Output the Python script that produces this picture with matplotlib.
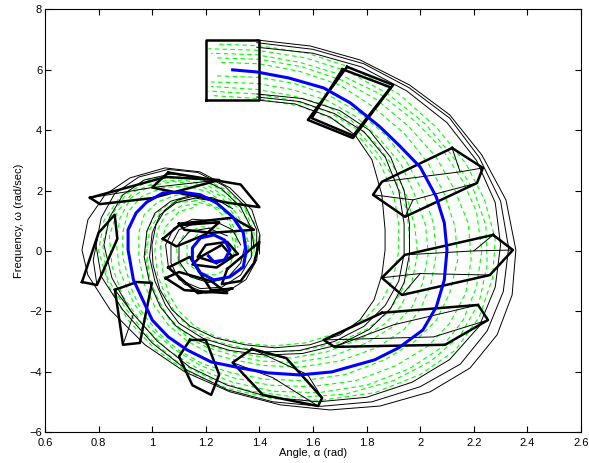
import numpy as np
import matplotlib.pyplot as plt

plt.rcParams['font.family'] = ['Liberation Sans', 'DejaVu Sans']

# nominal trajectory (blue)
nom_alpha = [1.30, 1.39, 1.51, 1.64, 1.74, 1.85, 1.92, 2.00, 2.06, 2.09, 2.10, 2.09, 2.06, 2.01, 1.92,
             1.83, 1.67, 1.55, 1.43, 1.33, 1.22, 1.13, 1.06, 1.00, 0.97, 0.93, 0.91, 0.91, 0.94, 0.98,
             1.04, 1.11, 1.18, 1.24, 1.30, 1.34, 1.35, 1.34, 1.29, 1.23, 1.18, 1.15, 1.15, 1.18, 1.23,
             1.27, 1.29, 1.27, 1.23, 1.21]
nom_omega = [6.00, 5.93, 5.73, 5.40, 4.90, 4.11, 3.51, 2.78, 1.79, 0.93, 0.03, -0.96, -1.86, -2.62, -3.21,
             -3.61, -4.01, -4.11, -4.04, -3.88, -3.68, -3.28, -2.85, -2.29, -1.72, -0.96, 0.03, 0.70, 1.26, 1.62,
             1.92, 1.95, 1.86, 1.59, 1.13, 0.60, 0.00, -0.53, -0.86, -0.96, -0.73, -0.30, 0.10, 0.43, 0.53,
             0.36, 0.03, -0.30, -0.36, -0.17]

# sampled trajectories (green)
sims = [
    [(1.25, 6.85), (1.40, 6.8), (1.58, 6.55), (1.75, 6.05), (1.92, 5.2), (2.06, 4.1), (2.17, 2.9), (2.24, 1.7),
     (2.28, 0.4), (2.27, -0.9), (2.22, -2.2), (2.13, -3.3), (2.00, -4.1), (1.83, -4.7), (1.63, -4.95),
     (1.45, -4.9), (1.28, -4.55), (1.13, -4.0), (1.01, -3.25), (0.91, -2.3), (0.84, -1.2), (0.80, 0.0),
     (0.82, 1.0), (0.88, 1.8), (0.97, 2.35), (1.08, 2.55), (1.18, 2.45), (1.27, 2.05), (1.34, 1.5), (1.39, 0.8)],
    [(1.21, 6.7), (1.39, 6.65), (1.57, 6.4), (1.73, 5.95), (1.88, 5.2), (2.02, 4.2), (2.12, 3.15), (2.20, 2.0),
     (2.245, 0.85), (2.25, -0.45), (2.22, -1.7), (2.15, -2.8), (2.04, -3.65), (1.90, -4.3), (1.72, -4.75),
     (1.54, -4.85), (1.37, -4.65), (1.22, -4.25), (1.09, -3.65), (0.99, -2.9), (0.90, -1.9), (0.83, -0.85),
     (0.815, 0.25), (0.845, 1.15), (0.905, 1.9), (0.99, 2.35), (1.10, 2.45), (1.20, 2.3), (1.28, 1.9),
     (1.35, 1.3), (1.38, 0.6), (1.38, -0.1)],
    [(1.22, 6.55), (1.39, 6.5), (1.55, 6.25), (1.70, 5.85), (1.85, 5.2), (1.98, 4.3), (2.08, 3.4), (2.16, 2.3),
     (2.21, 1.3), (2.23, 0.0), (2.21, -1.2), (2.16, -2.3), (2.08, -3.2), (1.96, -3.9), (1.80, -4.45), (1.62, -4.7),
     (1.45, -4.65), (1.30, -4.35), (1.17, -3.9), (1.06, -3.3), (0.97, -2.5), (0.89, -1.5), (0.85, -0.5),
     (0.84, 0.5), (0.87, 1.3), (0.93, 1.95), (1.02, 2.3), (1.12, 2.35), (1.21, 2.15), (1.29, 1.7), (1.35, 1.1),
     (1.38, 0.4), (1.37, -0.3)],
    [(1.23, 6.4), (1.40, 6.35), (1.56, 6.1), (1.71, 5.65), (1.84, 5.0), (1.96, 4.1), (2.06, 3.1), (2.13, 2.0),
     (2.18, 0.9), (2.19, -0.3), (2.17, -1.4), (2.11, -2.4), (2.03, -3.15), (1.91, -3.8), (1.76, -4.3),
     (1.59, -4.5), (1.44, -4.45), (1.30, -4.2), (1.18, -3.8), (1.08, -3.25), (0.99, -2.55), (0.93, -1.7),
     (0.88, -0.7), (0.865, 0.3), (0.88, 1.1), (0.92, 1.75), (0.99, 2.15), (1.08, 2.3), (1.17, 2.2),
     (1.25, 1.85), (1.31, 1.3), (1.35, 0.7), (1.36, 0.0)],
    [(1.25, 6.25), (1.40, 6.2), (1.55, 5.95), (1.70, 5.5), (1.82, 4.8), (1.94, 3.9), (2.03, 2.9), (2.09, 1.9),
     (2.13, 0.8), (2.14, -0.3), (2.11, -1.4), (2.06, -2.3), (1.98, -3.0), (1.87, -3.6), (1.72, -4.1),
     (1.56, -4.3), (1.42, -4.25), (1.30, -4.05), (1.19, -3.75), (1.10, -3.3), (1.02, -2.7), (0.96, -2.0),
     (0.92, -1.2), (0.89, -0.2), (0.89, 0.6), (0.91, 1.3), (0.96, 1.8), (1.04, 2.1), (1.13, 2.15),
     (1.21, 1.95), (1.28, 1.5), (1.33, 0.9)],
    [(1.24, 5.8), (1.40, 5.75), (1.53, 5.55), (1.66, 5.15), (1.77, 4.6), (1.87, 3.85), (1.95, 2.95), (2.01, 1.95),
     (2.05, 0.9), (2.06, -0.1), (2.04, -1.1), (2.00, -1.95), (1.94, -2.6), (1.84, -3.2), (1.70, -3.65),
     (1.55, -3.85), (1.42, -3.8), (1.31, -3.62), (1.21, -3.38), (1.13, -2.98), (1.06, -2.45), (1.01, -1.85),
     (0.97, -1.1), (0.95, -0.2), (0.95, 0.6), (0.97, 1.2), (1.02, 1.62), (1.09, 1.85), (1.16, 1.85),
     (1.23, 1.62), (1.28, 1.2), (1.31, 0.7), (1.32, 0.1)],
    [(1.22, 5.6), (1.39, 5.55), (1.52, 5.35), (1.65, 5.0), (1.76, 4.45), (1.85, 3.7), (1.93, 2.85), (1.98, 1.85),
     (2.02, 0.85), (2.03, -0.1), (2.01, -1.05), (1.97, -1.85), (1.90, -2.5), (1.80, -3.05), (1.67, -3.5),
     (1.53, -3.7), (1.41, -3.65), (1.31, -3.48), (1.21, -3.22), (1.13, -2.85), (1.07, -2.35), (1.03, -1.75),
     (0.99, -1.0), (0.975, -0.1), (0.98, 0.65), (1.01, 1.2), (1.06, 1.55), (1.12, 1.72), (1.19, 1.65),
     (1.25, 1.4)],
    [(1.22, 5.45), (1.39, 5.35), (1.52, 5.15), (1.64, 4.85), (1.74, 4.35), (1.83, 3.6), (1.90, 2.8), (1.95, 1.8),
     (1.98, 0.8), (1.99, -0.1), (1.97, -1.0), (1.93, -1.8), (1.87, -2.4), (1.78, -2.9), (1.65, -3.35),
     (1.52, -3.55), (1.40, -3.5), (1.30, -3.35), (1.20, -3.1), (1.12, -2.7), (1.06, -2.2), (1.02, -1.6),
     (0.99, -0.9), (0.98, 0.0), (0.99, 0.7), (1.03, 1.25), (1.09, 1.6), (1.16, 1.65), (1.23, 1.45),
     (1.28, 1.05), (1.31, 0.5), (1.31, -0.1)],
    [(1.21, 5.3), (1.39, 5.2), (1.53, 4.98), (1.66, 4.6), (1.76, 4.05), (1.84, 3.25), (1.91, 2.3), (1.95, 1.35),
     (1.96, 0.4), (1.96, -0.5), (1.93, -1.35), (1.88, -2.05), (1.80, -2.6), (1.69, -3.05), (1.56, -3.3),
     (1.44, -3.35), (1.33, -3.2), (1.23, -2.98), (1.15, -2.62), (1.09, -2.1), (1.05, -1.5), (1.02, -0.8),
     (1.01, 0.0), (1.02, 0.7), (1.05, 1.2), (1.11, 1.5), (1.18, 1.55)],
    [(1.22, 5.15), (1.39, 5.05), (1.55, 4.8), (1.68, 4.35), (1.78, 3.7), (1.85, 2.9), (1.90, 1.9), (1.92, 0.9),
     (1.92, 0.0), (1.90, -0.9), (1.86, -1.6), (1.80, -2.2), (1.70, -2.7), (1.57, -3.05), (1.45, -3.15),
     (1.34, -3.05), (1.24, -2.85), (1.16, -2.5), (1.10, -2.0), (1.06, -1.4), (1.04, -0.7), (1.03, 0.1),
     (1.05, 0.8), (1.10, 1.3), (1.16, 1.45)],
    [(1.32, 0.9), (1.36, 0.3), (1.35, -0.35), (1.30, -0.85), (1.22, -1.05), (1.15, -0.9), (1.10, -0.45),
     (1.09, 0.1), (1.12, 0.55), (1.18, 0.8), (1.25, 0.75)],
    [(1.29, 0.7), (1.31, 0.1), (1.29, -0.5), (1.24, -0.8), (1.18, -0.75), (1.13, -0.4), (1.13, 0.2),
     (1.17, 0.55), (1.23, 0.6)],
]

# reach set boundary arcs (thin black)
arcs = [
    [(1.39, 6.99), (1.59, 6.79), (1.775, 6.33), (1.96, 5.50), (2.11, 4.51), (2.23, 3.18), (2.32, 1.69),
     (2.357, 0.03), (2.343, -1.46), (2.287, -2.78), (2.186, -3.88), (2.037, -4.67), (1.85, -5.14),
     (1.663, -5.27), (1.477, -5.10), (1.29, -4.67), (1.122, -4.01), (0.973, -3.11), (0.843, -1.95),
     (0.76, -0.80), (0.738, 0.03), (0.76, 1.03), (0.824, 1.86), (0.917, 2.42), (1.048, 2.75), (1.178, 2.62),
     (1.29, 2.09), (1.372, 1.36), (1.402, 0.53), (1.40, -0.1)],
    [(1.39, 6.9), (1.60, 6.68), (1.79, 6.2), (1.96, 5.4), (2.11, 4.4), (2.22, 3.1), (2.30, 1.65), (2.33, 0.1),
     (2.31, -1.35), (2.25, -2.65), (2.15, -3.75), (2.0, -4.5), (1.82, -5.0), (1.63, -5.15), (1.45, -5.0),
     (1.28, -4.6), (1.13, -3.95), (1.0, -3.05), (0.89, -1.95), (0.81, -0.85), (0.79, 0.2), (0.81, 1.1),
     (0.86, 1.9), (0.95, 2.45), (1.06, 2.7), (1.17, 2.6), (1.27, 2.15), (1.35, 1.45), (1.39, 0.7), (1.39, 0.0)],
    [(1.39, 6.75), (1.60, 6.55), (1.78, 6.1), (1.95, 5.3), (2.10, 4.25), (2.21, 3.0), (2.28, 1.6), (2.30, 0.2),
     (2.28, -1.2), (2.22, -2.5), (2.11, -3.6), (1.97, -4.35), (1.80, -4.85), (1.62, -5.0), (1.44, -4.85),
     (1.28, -4.45), (1.14, -3.85), (1.02, -3.0), (0.92, -2.0), (0.85, -0.9), (0.82, 0.2), (0.84, 1.1),
     (0.89, 1.85), (0.97, 2.35), (1.07, 2.55), (1.17, 2.45), (1.26, 2.05), (1.33, 1.45), (1.37, 0.75),
     (1.38, 0.1)],
    [(1.391, 5.00), (1.533, 4.87), (1.663, 4.44), (1.757, 3.84), (1.82, 3.02), (1.857, 1.86), (1.869, 0.70),
     (1.869, 0.03), (1.857, -0.80), (1.828, -1.62), (1.775, -2.29), (1.701, -2.78), (1.589, -3.11),
     (1.458, -3.21), (1.346, -3.11), (1.234, -2.88), (1.141, -2.49), (1.074, -1.95), (1.029, -1.29),
     (1.003, -0.46), (0.999, 0.20), (1.014, 0.86), (1.048, 1.36), (1.096, 1.69), (1.16, 1.82), (1.223, 1.76)],
    [(1.39, 5.1), (1.55, 4.95), (1.68, 4.55), (1.79, 3.95), (1.87, 3.1), (1.92, 2.0), (1.94, 0.9), (1.94, -0.1),
     (1.92, -1.0), (1.87, -1.8), (1.79, -2.5), (1.68, -3.0), (1.55, -3.3), (1.42, -3.35), (1.30, -3.2),
     (1.19, -2.9), (1.10, -2.4), (1.05, -1.8), (1.01, -1.0), (0.99, -0.2), (1.00, 0.6), (1.03, 1.2),
     (1.09, 1.6), (1.16, 1.75), (1.23, 1.65)],
    [(1.39, 5.2), (1.56, 5.05), (1.70, 4.65), (1.81, 4.0), (1.89, 3.1), (1.94, 2.0), (1.96, 0.9), (1.96, -0.1),
     (1.94, -1.05), (1.89, -1.9), (1.81, -2.6), (1.70, -3.1), (1.56, -3.4), (1.42, -3.45), (1.29, -3.3),
     (1.18, -3.0), (1.09, -2.5), (1.03, -1.85), (0.99, -1.05), (0.97, -0.2), (0.98, 0.65), (1.01, 1.25),
     (1.07, 1.65), (1.15, 1.85), (1.23, 1.75), (1.30, 1.4)],
    [(1.40, 0.5), (1.39, -0.3), (1.35, -0.95), (1.28, -1.35), (1.20, -1.4), (1.12, -1.1), (1.06, -0.5),
     (1.05, 0.2), (1.08, 0.75), (1.15, 1.05), (1.23, 1.0), (1.30, 0.7), (1.33, 0.2)],
    [(1.37, 0.6), (1.37, -0.2), (1.33, -0.8), (1.26, -1.2), (1.18, -1.25), (1.10, -0.95), (1.07, -0.4),
     (1.07, 0.2), (1.10, 0.7), (1.17, 0.95), (1.25, 0.9)],
    [(1.35, 0.3), (1.33, -0.4), (1.28, -0.9), (1.21, -1.05), (1.14, -0.85), (1.10, -0.35), (1.10, 0.25),
     (1.14, 0.65), (1.21, 0.75), (1.28, 0.5)],
]

# over-approximating sets at sample times (thick black)
sets = [
    [(1.2, 5.0), (1.4, 5.0), (1.4, 7.0), (1.2, 7.0)],
    [(1.727, 6.10), (1.899, 5.50), (1.749, 3.74), (1.581, 4.34)],
    [(1.71, 6.02), (1.89, 5.42), (1.75, 3.82), (1.595, 4.40)],
    [(2.119, 3.41), (2.234, 2.75), (2.212, 2.25), (1.943, 1.13), (1.824, 1.86), (1.857, 2.29)],
    [(2.272, 0.53), (2.346, 0.03), (2.26, -0.80), (1.932, -1.46), (1.857, -0.89), (1.943, -0.13)],
    [(1.858, -2.05), (2.216, -1.79), (2.253, -2.29), (2.093, -3.11), (1.68, -3.18), (1.64, -2.95)],
    [(1.372, -3.25), (1.50, -3.55), (1.634, -4.87), (1.619, -5.14), (1.413, -4.77), (1.30, -3.70)],
    [(1.141, -2.95), (1.20, -2.95), (1.25, -4.10), (1.22, -4.77), (1.15, -4.45), (1.10, -3.50)],
    [(0.861, -1.29), (0.943, -1.03), (0.999, -1.06), (0.954, -3.05), (0.891, -3.11)],
    [(0.738, -1.03), (0.794, -1.13), (0.87, 0.40), (0.86, 1.20), (0.80, 0.60)],
    [(0.768, 1.76), (0.805, 1.55), (1.00, 1.75), (1.25, 2.35), (1.05, 2.45)],
    [(1.06, 2.60), (1.33, 2.20), (1.40, 1.45), (1.28, 1.60), (1.00, 2.10)],
    [(1.04, 0.40), (1.10, 0.85), (1.25, 0.95), (1.20, 0.55), (1.09, 0.15)],
    [(1.06, -0.55), (1.14, -0.20), (1.22, -1.30), (1.30, -1.25), (1.17, -1.40)],
    [(1.28, -0.60), (1.40, 0.30), (1.38, -0.40), (1.33, -1.00), (1.26, -1.10)],
    [(1.18, -0.20), (1.26, 0.20), (1.30, -0.20), (1.24, -0.55), (1.15, -0.45)],
    [(1.10, 0.90), (1.30, 1.10), (1.38, 0.70), (1.22, 0.60), (1.12, 0.70)],
    [(1.05, -0.90), (1.12, -1.30), (1.28, -1.40), (1.22, -1.00), (1.10, -0.70)],
    [(1.24, -0.40), (1.32, -0.10), (1.28, 0.30), (1.20, 0.20), (1.17, -0.20)],
]

# inner edges of the projected sets (thin black)
edges = [
    [(1.824, 1.86), (1.973, 1.69), (2.212, 2.25)],
    [(1.857, 2.29), (2.149, 2.62), (2.234, 2.75)],
    [(1.973, 1.69), (1.943, 1.13)],
    [(2.149, 2.62), (2.119, 3.41)],
    [(1.857, -0.89), (2.00, -0.75), (2.26, -0.80)],
    [(1.943, -0.13), (2.20, 0.00), (2.346, 0.03)],
    [(2.00, -0.75), (1.932, -1.46)],
    [(2.20, 0.00), (2.272, 0.53)],
    [(1.64, -2.95), (2.05, -2.85), (2.253, -2.29)],
    [(1.68, -3.18), (1.90, -2.45), (2.216, -1.79)],
    [(1.30, -3.70), (1.45, -4.20), (1.619, -5.14)],
    [(1.372, -3.25), (1.58, -4.10), (1.634, -4.87)],
    [(0.861, -1.29), (0.93, -2.10), (0.891, -3.11)],
    [(0.80, 0.60), (0.78, -0.30), (0.794, -1.13)],
    [(0.768, 1.76), (1.00, 2.10), (1.25, 2.35)],
]

fig = plt.figure(figsize=(5.89, 4.63), dpi=100)
ax = fig.add_axes([0.0764, 0.067, 0.910, 0.9125])

for i, s in enumerate(sims):
    s = np.array(s)
    ax.plot(s[:, 0], s[:, 1], color='#00ff00', ls=(i * 1.3, (4, 3)), lw=0.8)

for a in arcs:
    a = np.array(a)
    ax.plot(a[:, 0], a[:, 1], color='black', lw=0.7)

for e in edges:
    e = np.array(e)
    ax.plot(e[:, 0], e[:, 1], color='black', lw=0.7)

for p in sets:
    p = np.array(p + [p[0]])
    ax.plot(p[:, 0], p[:, 1], color='black', lw=1.8)

ax.plot(nom_alpha, nom_omega, color='#0000ff', lw=2.2, solid_joinstyle='round')

ax.set_xlim(0.6, 2.6)
ax.set_ylim(-6, 8)
ax.set_xticks(np.arange(0.6, 2.61, 0.2))
ax.set_xticklabels(['0.6', '0.8', '1', '1.2', '1.4', '1.6', '1.8', '2', '2.2', '2.4', '2.6'])
ax.set_yticks(np.arange(-6, 9, 2))
ax.tick_params(direction='in', top=True, right=True, labelsize=8, length=4)
ax.tick_params(axis='x', pad=4)
ax.tick_params(axis='y', pad=2)
ax.set_xlabel('Angle, \u03b1 (rad)', fontsize=8, labelpad=0)
ax.set_ylabel('Frequency, \u03c9 (rad/sec)', fontsize=8, labelpad=4)

fig.savefig('out.png', dpi=100)
